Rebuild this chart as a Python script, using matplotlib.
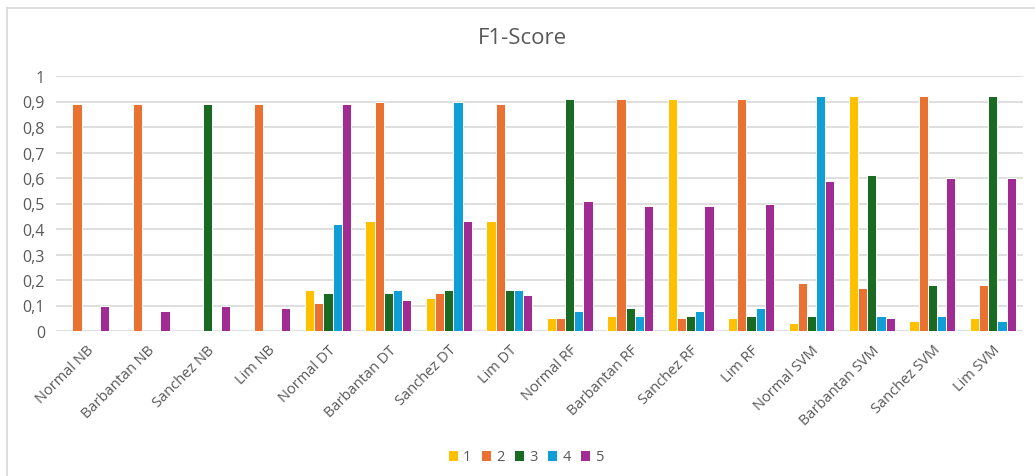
import numpy as np
import matplotlib
matplotlib.use("Agg")
import matplotlib.pyplot as plt
from matplotlib.lines import Line2D

plt.rcParams['font.family'] = ['Open Sans', 'DejaVu Sans']

categories = ["Normal NB", "Barbantan NB", "Sanchez NB", "Lim NB",
              "Normal DT", "Barbantan DT", "Sanchez DT", "Lim DT",
              "Normal RF", "Barbantan RF", "Sanchez RF", "Lim RF",
              "Normal SVM", "Barbantan SVM", "Sanchez SVM", "Lim SVM"]

series_names = ["1", "2", "3", "4", "5"]

s1 = [0, 0, 0, 0, 0.16, 0.43, 0.13, 0.43, 0.05, 0.06, 0.91, 0.05, 0.03, 0.92, 0.04, 0.05]
s2 = [0.89, 0.89, 0, 0.89, 0.11, 0.90, 0.15, 0.89, 0.05, 0.91, 0.05, 0.91, 0.19, 0.17, 0.92, 0.18]
s3 = [0, 0, 0.89, 0, 0.15, 0.15, 0.16, 0.16, 0.91, 0.09, 0.06, 0.06, 0.06, 0.61, 0.18, 0.92]
s4 = [0, 0, 0, 0, 0.42, 0.16, 0.90, 0.16, 0.08, 0.06, 0.08, 0.09, 0.92, 0.06, 0.06, 0.04]
s5 = [0.10, 0.08, 0.10, 0.09, 0.89, 0.12, 0.43, 0.14, 0.51, 0.49, 0.49, 0.50, 0.59, 0.05, 0.60, 0.60]

y_ticks = [0, 0.1, 0.2, 0.3, 0.4, 0.5, 0.6, 0.7, 0.8, 0.9, 1]
y_tick_labels = ["0", "0,1", "0,2", "0,3", "0,4", "0,5", "0,6", "0,7", "0,8", "0,9", "1"]

colors = ["#FFC000", "#E97132", "#196B24", "#0F9ED5", "#A02B93"]
text_color = "#595959"
grid_color = "#D9D9D9"

fig = plt.figure(figsize=(10.35, 4.77), dpi=100)
ax = fig.add_axes([56 / 1035, 1 - 332 / 477, (1023 - 56) / 1035, (332 - 77) / 477])

x = np.arange(len(categories))
bar_w = 0.152
data = [s1, s2, s3, s4, s5]
for k, (vals, name, c) in enumerate(zip(data, series_names, colors)):
    ax.bar(x + (k - 2) * bar_w, vals, width=bar_w, color=c, edgecolor="white",
           linewidth=0.7, label=name, zorder=3)

ax.set_xlim(-0.5, len(categories) - 0.5)
ax.set_ylim(0, 1)
ax.set_yticks(y_ticks)
ax.set_yticklabels(y_tick_labels)
ax.yaxis.grid(True, color=grid_color, linewidth=1.2, zorder=0)
ax.set_axisbelow(True)
for sp in ax.spines.values():
    sp.set_visible(False)
ax.tick_params(axis='both', length=0, colors=text_color)
ax.tick_params(axis='y', pad=8, labelsize=11.5)
ax.set_xticks(x)
ax.set_xticklabels(categories, rotation=45, ha='right', va='top',
                   rotation_mode='anchor', color=text_color, fontsize=10.5)
ax.tick_params(axis='x', pad=8)

fig.text(0.505, 1 - 39 / 477, "F1-Score", ha='center', va='center',
         fontsize=16, color=text_color)

leg = fig.legend(loc='center', bbox_to_anchor=(0.508, 1 - 458 / 477), ncol=5,
                 frameon=False, fontsize=10.5, handlelength=0.7, handleheight=0.7,
                 handletextpad=0.35, columnspacing=0.65, labelcolor=text_color)

# chart frame lines
fig.add_artist(Line2D([7 / 1035, 7 / 1035], [0, 1 - 9 / 477], transform=fig.transFigure,
                      color=grid_color, linewidth=1.2))
fig.add_artist(Line2D([7 / 1035, 1], [1 - 9 / 477, 1 - 9 / 477], transform=fig.transFigure,
                      color=grid_color, linewidth=1.2))

fig.savefig("out.png", dpi=100)
